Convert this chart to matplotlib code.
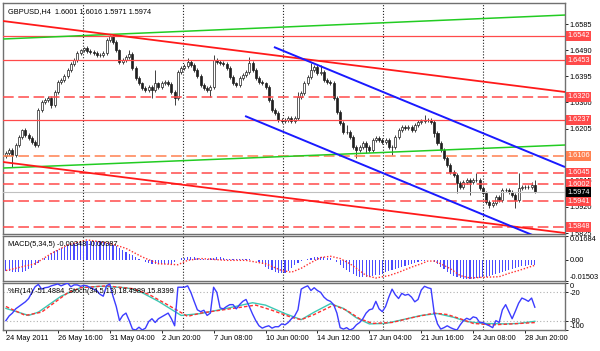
import numpy as np
import matplotlib
matplotlib.use('Agg')
import matplotlib.pyplot as plt

plt.rcParams['font.family'] = ['Liberation Sans', 'DejaVu Sans']

# GBPUSD H4 closes, one per bar (24 May .. 29 Jun 2011)
closes = [
    1.6116, 1.6127, 1.6109, 1.6145, 1.6174, 1.6200, 1.6181, 1.6170, 1.6156, 1.6145,
    1.6272, 1.6301, 1.6309, 1.6316, 1.6290, 1.6338, 1.6374, 1.6381, 1.6396, 1.6418,
    1.6440, 1.6454, 1.6480, 1.6490, 1.6498, 1.6487, 1.6483, 1.6480, 1.6472, 1.6472,
    1.6480, 1.6527, 1.6541, 1.6520, 1.6490, 1.6447, 1.6454, 1.6465, 1.6476, 1.6425,
    1.6389, 1.6370, 1.6352, 1.6345, 1.6356, 1.6345, 1.6370, 1.6356, 1.6370, 1.6374,
    1.6367, 1.6338, 1.6316, 1.6410, 1.6425, 1.6432, 1.6447, 1.6436, 1.6418, 1.6396,
    1.6363, 1.6352, 1.6345, 1.6356, 1.6454, 1.6447, 1.6443, 1.6440, 1.6425, 1.6392,
    1.6370, 1.6363, 1.6389, 1.6400, 1.6410, 1.6443, 1.6418, 1.6389, 1.6374, 1.6370,
    1.6356, 1.6309, 1.6272, 1.6261, 1.6236, 1.6232, 1.6236, 1.6243, 1.6232, 1.6243,
    1.6320, 1.6334, 1.6370, 1.6392, 1.6418, 1.6429, 1.6407, 1.6410, 1.6381, 1.6374,
    1.6370, 1.6316, 1.6265, 1.6225, 1.6192, 1.6192, 1.6174, 1.6138, 1.6127, 1.6138,
    1.6152, 1.6138, 1.6127, 1.6163, 1.6170, 1.6163, 1.6156, 1.6163, 1.6138, 1.6138,
    1.6174, 1.6200, 1.6210, 1.6207, 1.6210, 1.6200, 1.6218, 1.6229, 1.6232, 1.6236,
    1.6236, 1.6229, 1.6189, 1.6152, 1.6127, 1.6098, 1.6072, 1.6047, 1.6036, 1.6007,
    1.5992, 1.6010, 1.6018, 1.6010, 1.6018, 1.6018, 1.5989, 1.5970, 1.5938, 1.5927,
    1.5934, 1.5956, 1.5945, 1.5981, 1.5981, 1.5974, 1.5963, 1.5945, 1.5989, 1.5992,
    1.5992, 1.5992, 1.6001, 1.5974,
]
first_open = 1.6105

# wick lengths in pips above / below the body
wick_up = [
    6, 8, 6, 6, 8, 4, 6, 6, 8, 6, 8, 6, 6, 6, 8, 6, 6, 8, 6, 6,
    6, 8, 6, 6, 4, 8, 6, 6, 6, 8, 6, 6, 4, 8, 6, 6, 6, 8, 15, 6,
    6, 8, 6, 6, 6, 6, 47, 6, 8, 6, 6, 6, 6, 8, 6, 6, 15, 8, 6, 6,
    6, 8, 6, 6, 18, 6, 6, 8, 6, 6, 8, 6, 6, 6, 8, 22, 6, 6, 8, 6,
    6, 6, 8, 6, 6, 6, 8, 6, 6, 6, 18, 6, 8, 6, 25, 6, 6, 25, 8, 6,
    6, 8, 6, 6, 6, 25, 8, 6, 6, 8, 6, 6, 8, 6, 6, 8, 6, 6, 8, 6,
    8, 6, 6, 8, 6, 6, 8, 6, 6, 18, 6, 8, 6, 6, 8, 6, 6, 8, 6, 6,
    8, 6, 8, 6, 6, 25, 6, 8, 6, 6, 8, 6, 6, 8, 6, 6, 8, 6, 55, 6,
    8, 6, 8, 15,
]
wick_dn = [
    6, 8, 44, 6, 6, 8, 6, 6, 8, 6, 6, 8, 6, 6, 10, 6, 8, 6, 6, 8,
    6, 6, 8, 6, 6, 8, 6, 6, 8, 6, 6, 8, 6, 6, 8, 6, 6, 8, 6, 6,
    8, 6, 6, 8, 6, 30, 6, 6, 8, 6, 6, 8, 25, 6, 6, 8, 6, 6, 8, 6,
    6, 8, 6, 25, 6, 6, 8, 6, 6, 8, 6, 6, 8, 6, 6, 8, 6, 6, 8, 6,
    8, 6, 6, 8, 6, 6, 8, 6, 6, 8, 6, 6, 8, 6, 6, 8, 6, 6, 8, 6,
    6, 8, 6, 6, 8, 6, 6, 8, 30, 6, 8, 22, 6, 8, 6, 6, 8, 6, 6, 30,
    6, 8, 6, 6, 8, 6, 6, 8, 6, 6, 8, 6, 15, 6, 8, 6, 6, 8, 6, 36,
    6, 8, 6, 47, 6, 8, 6, 6, 8, 12, 6, 8, 6, 6, 8, 6, 6, 30, 6, 8,
    6, 8, 6, 3,
]

# MACD(5,34,5) main values per bar, in thousandths
macd_main = [
    -7.6, -8.0, -8.5, -8.8, -8.8, -8.5, -7.8, -6.8, -5.5, -4.0,
    -2.5, -0.5, 1.0, 2.8, 4.5, 6.0, 7.2, 8.4, 9.4, 10.3,
    11.0, 11.7, 12.3, 12.8, 13.2, 13.5, 13.6, 13.6, 13.4, 13.0,
    12.5, 12.2, 11.6, 10.8, 9.6, 8.3, 7.0, 5.6, 4.4, 3.2,
    2.0, 0.9, -0.5, -1.5, -2.3, -2.8, -3.0, -3.1, -3.0, -2.9,
    -3.0, -3.1, -1.5, 0.2, 1.0, 1.6, 2.0, 2.2, 2.0, 1.5,
    0.9, 0.6, 0.6, 1.2, 1.6, 1.8, 1.8, 1.5, 0.9, 0.5,
    0.3, 0.4, 0.6, 0.8, 0.8, 0.5, 0.2, -0.5, -1.5, -3.0,
    -4.8, -6.3, -7.5, -8.5, -9.2, -9.6, -9.5, -8.0, -6.0, -4.0,
    -2.5, -1.2, -0.5, 0.5, 1.3, 1.8, 2.1, 2.2, 2.0, 1.6,
    1.0, 0.0, -1.5, -3.5, -5.5, -7.5, -9.0, -10.3, -11.3, -12.0,
    -12.4, -12.4, -12.0, -11.5, -11.0, -10.5, -9.8, -9.0, -8.2, -7.4,
    -6.6, -5.8, -5.0, -4.2, -3.5, -2.8, -2.2, -1.6, -1.1, -0.6,
    -0.3, -0.5, -1.5, -3.0, -4.8, -6.8, -8.6, -10.2, -11.5, -12.5,
    -13.2, -13.6, -13.8, -13.8, -13.6, -13.2, -12.8, -12.4, -12.0, -11.6,
    -11.0, -10.4, -9.6, -8.9, -8.1, -7.4, -6.6, -5.9, -5.3, -4.7,
    -4.2, -3.9, -3.6, -3.48,
]
# MACD signal, read at these bars
sig_bars = [0, 9, 14, 19, 25, 32, 37, 42, 47, 53, 56, 60, 68, 74, 80, 85, 88, 91,
            94, 97, 100, 103, 106, 109, 111, 114, 118, 121, 125, 128, 130, 132,
            134, 137, 140, 143, 147, 152, 155, 158, 163]
sig_vals = [-7.6, -2.8, 4.5, 10.5, 14.1, 11.7, 8.1, 2.0, -2.8, -3.5, -0.4, 0.9, -0.4,
            -0.4, -2.8, -7.6, -8.8, -6.0, -2.0, 1.6, 2.5, 0.9, -2.8, -7.6, -11.2,
            -12.9, -11.2, -8.9, -5.2, -2.8, -0.9, -0.9, -2.8, -6.4, -11.2, -12.9,
            -12.4, -12.0, -9.6, -7.6, -3.87]

# Williams %R(14) per bar
wpr = [
    -80, -70, -64, -55, -50, -45, -40, -33, -20, -8,
    -3, -13, -10, -9, -6, -4, -2, -6, -3, 0,
    -8, -4, -4, -7, -5, -6, -10, -13, -16, -24,
    -28, -6, -2, -28, -50, -80, -69, -64, -80, -98,
    -100, -94, -100, -96, -82, -76, -84, -76, -72, -68,
    -64, -76, -91, -9, -9, -9, -6, -20, -39, -57,
    -61, -58, -69, -64, -9, -20, -53, -55, -50, -46,
    -46, -55, -46, -39, -35, -50, -66, -80, -91, -96,
    -93, -91, -96, -93, -93, -87, -89, -84, -76, -70,
    -57, -13, -9, -6, -16, -10, -16, -20, -30, -36,
    -39, -46, -64, -95, -98, -95, -100, -97, -89, -84,
    -76, -64, -57, -55, -39, -55, -61, -50, -30, -13,
    -25, -33, -22, -26, -24, -30, -40, -35, -15, -7,
    -10, -12, -64, -87, -98, -95, -91, -95, -98, -100,
    -89, -80, -75, -78, -72, -74, -84, -84, -88, -91,
    -95, -80, -84, -57, -46, -61, -76, -60, -43, -32,
    -35, -39, -32, -51.5,
]

# Stochastic(34,5,13) main and signal, read at these bars
stm_bars = [0, 7, 10, 17, 23, 29, 37, 41, 47, 54, 60, 68, 76, 80, 86, 91, 95, 100,
            104, 108, 112, 117, 121, 128, 133, 138, 142, 147, 154, 158, 163]
stm_vals = [46, 31, 38, 72, 90, 93, 90, 83, 61, 31, 35, 46, 58, 53, 35, 22, 38, 56,
            46, 26, 13, 14, 20, 31, 35, 27, 18, 14, 13, 14, 18.5]
sts_bars = [0, 6, 11, 19, 23, 31, 39, 44, 50, 56, 60, 70, 77, 82, 88, 91, 95, 101,
            105, 109, 113, 119, 125, 132, 136, 140, 144, 150, 156, 163]
sts_vals = [50, 31, 38, 79, 90, 94, 88, 76, 53, 29, 36, 46, 53, 42, 27, 22, 33, 53,
            42, 24, 14, 16, 26, 36, 33, 24, 14, 11, 13, 15.8]

# horizontal levels
levels = [1.6542, 1.6453, 1.6320, 1.6237, 1.6106, 1.6045, 1.6002, 1.5941, 1.5848]
level_dashed = [False, False, True, False, True, True, True, True, True]
bid = 1.5974

# trend lines: two anchors (bar, price) each
green_top = [(0, 1.65310), (160, 1.66115)]
green_mid = [(0, 1.60618), (160, 1.61391)]
red_top = [(0, 1.65946), (160, 1.63562)]
red_bot = [(0, 1.60819), (160, 1.58433)]
blue_top = [(82.6, 1.65014), (160, 1.61248)]
blue_bot = [(73.7, 1.62505), (161.5, 1.58214)]

time_ticks = [0, 16, 32, 48, 64, 80, 96, 112, 128, 144, 160]
time_labels = ['24 May 2011', '26 May 16:00', '31 May 04:00', '2 Jun 20:00',
               '7 Jun 08:00', '10 Jun 00:00', '14 Jun 12:00', '17 Jun 04:00',
               '21 Jun 16:00', '24 Jun 08:00', '28 Jun 20:00']
price_ticks = [1.6585, 1.6490, 1.6395, 1.6300, 1.6205, 1.6110, 1.6015, 1.5920, 1.5825]

FS = 5.3
XMIN, XMAX = -0.9, 172.3
grid_bars = [23.7, 54.5, 85.4, 116.2, 147.0]

closes = np.array(closes)
n = len(closes)
x = np.arange(n)
opens = np.r_[first_open, closes[:-1]]
highs = np.maximum(opens, closes) + np.array(wick_up) * 0.0001
lows = np.minimum(opens, closes) - np.array(wick_dn) * 0.0001

fig = plt.figure(figsize=(6, 3.51), dpi=100)
ax = fig.add_axes([0.005, 0.3333, 0.9367, 0.6581])
ax2 = fig.add_axes([0.005, 0.1994, 0.9367, 0.1282], sharex=ax)
ax3 = fig.add_axes([0.005, 0.0598, 0.9367, 0.1339], sharex=ax)

# stochastic shares the %R window but runs 0..100
ax4 = ax3.twinx()
ax4.set_ylim(0, 100)
ax4.set_yticks([])
for s in ax4.spines.values():
    s.set_visible(False)

for a in (ax, ax2, ax3):
    a.set_xlim(XMIN, XMAX)
    for s in a.spines.values():
        s.set_color('#707070')
        s.set_linewidth(1.0)
    a.yaxis.tick_right()
    a.yaxis.set_label_position('right')
    a.tick_params(axis='y', labelsize=FS, length=2, pad=1.5, width=0.6,
                  left=False, labelleft=False, right=True, labelright=True)
    for g in grid_bars:
        a.axvline(g, color='#202020', lw=0.8, ls=(0, (1, 1.6)), zorder=1)

# ---- main price panel
ax.set_ylim(1.58214, 1.66614)
ax.tick_params(axis='x', bottom=False, labelbottom=False)
ax.set_yticks(price_ticks)
ax.set_yticklabels(['%.4f' % p for p in price_ticks])

up = closes >= opens
ax.vlines(x, lows, highs, color='#202020', lw=0.6, zorder=2)
body_h = np.maximum(np.abs(closes - opens), 0.00005)
ax.bar(x[up], body_h[up], bottom=opens[up], width=0.62, color='white',
       edgecolor='#202020', lw=0.5, zorder=3)
ax.bar(x[~up], body_h[~up], bottom=closes[~up], width=0.62, color='#202020',
       edgecolor='#202020', lw=0.5, zorder=3)

for lv, dsh in zip(levels, level_dashed):
    col = '#ff8050' if lv == 1.6106 else '#ff4a4a'
    if dsh:
        ax.axhline(lv, color=col, lw=1.1, ls=(0, (7, 3)), zorder=4)
    else:
        ax.axhline(lv, color=col, lw=0.9, zorder=4)
    ax.text(1.004, lv, '%.4f' % lv, transform=ax.get_yaxis_transform(),
            fontsize=FS, color='white', va='center', ha='left', zorder=10,
            clip_on=False,
            bbox=dict(boxstyle='square,pad=0.2', fc=col, ec='none'))
ax.axhline(bid, color='#c0c0c0', lw=0.8, zorder=4)
ax.text(1.004, bid, '%.4f' % bid, transform=ax.get_yaxis_transform(),
        fontsize=FS, color='white', va='center', ha='left', zorder=10,
        clip_on=False, bbox=dict(boxstyle='square,pad=0.2', fc='black', ec='none'))


def trend(line, color, lw, ray=False):
    (b0, p0), (b1, p1) = line
    k = (p1 - p0) / (b1 - b0)
    xs = np.array([b0 if ray else XMIN, XMAX])
    ax.plot(xs, p0 + k * (xs - b0), color=color, lw=lw, zorder=5,
            solid_capstyle='butt')


trend(green_top, '#22cc22', 1.1)
trend(green_mid, '#22cc22', 1.1)
trend(red_top, '#ff1a1a', 1.3)
trend(red_bot, '#ff1a1a', 1.3)
trend(blue_top, '#1a1aff', 1.4, ray=True)
trend(blue_bot, '#1a1aff', 1.4, ray=True)

ax.text(0.009, 0.965, 'GBPUSD,H4  1.6001 1.6016 1.5971 1.5974',
        transform=ax.transAxes, fontsize=FS, va='center', ha='left', zorder=11)

# ---- MACD panel
macd = np.array(macd_main) * 0.001
ax2.set_ylim(-0.01503, 0.01684)
ax2.tick_params(axis='x', bottom=False, labelbottom=False)
ax2.bar(x, macd, width=0.35, color='#4b4bff', zorder=3)
ax2.plot(sig_bars, np.array(sig_vals) * 0.001, color='#ff3030', lw=1.0,
         ls=(0, (1, 1.3)), zorder=4)
ax2.set_yticks([0.01684, 0.0, -0.01503])
ax2.set_yticklabels(['0.01684', '0.00', '-0.01503'])
tl = ax2.get_yticklabels()
tl[0].set_va('top')
tl[2].set_va('bottom')
ax2.text(0.009, 0.82, 'MACD(5,34,5) -0.00348 -0.00387', transform=ax2.transAxes,
         fontsize=FS, va='center', ha='left', zorder=11)

# ---- %R + Stochastic panel
ax3.set_ylim(-100, 0)
ax3.axhline(-20, color='#b0b0b0', lw=0.8, ls=(0, (1, 2)), zorder=1)
ax3.axhline(-80, color='#b0b0b0', lw=0.8, ls=(0, (1, 2)), zorder=1)
ax3.set_yticks([0, -20, -80, -100])
ax3.set_yticklabels(['0', '-20', '-80', '-100'])
tl = ax3.get_yticklabels()
tl[0].set_va('top')
tl[3].set_va('bottom')
ax3.set_xticks(time_ticks)
ax3.set_xticklabels(time_labels, ha='left')
ax3.tick_params(axis='x', labelsize=FS, length=2, pad=1.5, width=0.6)

ax4.plot(stm_bars, stm_vals, color='#3cc8b4', lw=1.0, zorder=3)
ax4.plot(sts_bars, sts_vals, color='#ff3030', lw=1.0, ls=(0, (2.5, 1.5)), zorder=3)
ax4.plot(x, np.array(wpr) + 100, color='#3c3cff', lw=1.0, zorder=4)
ax4.text(0.009, 0.82, '%R(14) -51.4884  Stoch(34,5,13) 18.4989 15.8399',
         transform=ax3.transAxes, fontsize=FS, va='center', ha='left', zorder=11)

fig.savefig('out.png', dpi=100)
